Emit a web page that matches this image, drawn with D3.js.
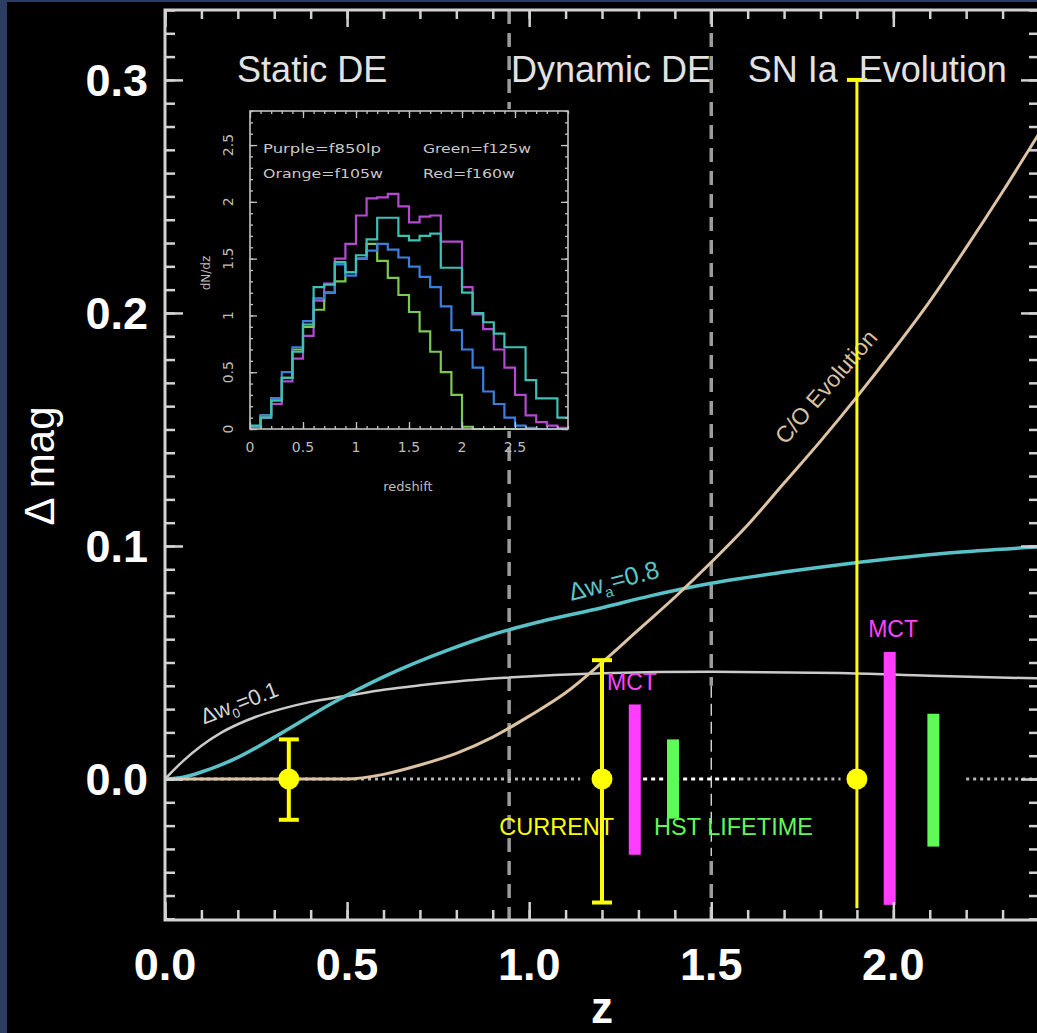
<!DOCTYPE html>
<html>
<head>
<meta charset="utf-8">
<script src="https://cdn.jsdelivr.net/npm/d3@7/dist/d3.min.js"></script>
<style>
  body { margin: 0; background: #000; }
  svg { display: block; }
</style>
</head>
<body>
<svg id="chart" width="1037" height="1033"></svg>
<script>
// ---- main panel data (z vs delta mag) ----
var grayZ = [0, 0.05, 0.1, 0.15, 0.2, 0.25, 0.32, 0.4, 0.5, 0.6, 0.7, 0.8, 0.92, 1.2, 1.5, 1.85, 2.1, 2.4];
var grayV = [0, 0.0078, 0.0143, 0.0195, 0.0235, 0.0267, 0.0301, 0.0331, 0.0357, 0.0383, 0.0402, 0.0418, 0.0433, 0.0454, 0.046, 0.0455, 0.0443, 0.0432];
var cyanZ = [0, 0.05, 0.1, 0.19, 0.32, 0.46, 0.6, 0.78, 0.9, 1.03, 1.2, 1.33, 1.5, 1.7, 1.88, 2.15, 2.4];
var cyanV = [0, 0.0008, 0.003, 0.0085, 0.0197, 0.0326, 0.0438, 0.0555, 0.062, 0.0675, 0.0735, 0.0785, 0.084, 0.0888, 0.0925, 0.097, 0.0996];
var tanZ = [0, 0.5, 0.6, 0.7, 0.8, 0.9, 1.0, 1.1, 1.2, 1.3, 1.4, 1.5, 1.6, 1.7, 1.8, 1.9, 2.0, 2.1, 2.2, 2.3, 2.4];
var tanV = [0, 0, 0.002, 0.006, 0.011, 0.018, 0.027, 0.037, 0.05, 0.064, 0.078, 0.093, 0.109, 0.127, 0.145, 0.164, 0.184, 0.205, 0.228, 0.252, 0.277];

// yellow "current" points with error bars
var curZ = [0.34, 1.2, 1.9];
var curLo = [-0.0175, -0.053, -0.0555];
var curHi = [0.017, 0.051, 0.300];
var curBottomCap = [true, true, false];
// magenta MCT and green HST bars
var mctZ = [1.29, 1.99];
var mctLo = [-0.0325, -0.054];
var mctHi = [0.032, 0.0545];
var hstZ = [1.395, 2.11];
var hstLo = [-0.017, -0.029];
var hstHi = [0.017, 0.028];

var regionZ = [0.945, 1.5];
var zeroSegs = [[0, 1.14], [1.58, 1.855], [2.2, 2.4]];
var zeroBright = [1.313, 1.58];
var hstGap = [-0.033, 0.040];

var zTicks = [0, 0.5, 1, 1.5, 2];
var zLabels = ["0.0", "0.5", "1.0", "1.5", "2.0"];
var magTicks = [0, 0.1, 0.2, 0.3];
var magLabels = ["0.0", "0.1", "0.2", "0.3"];

// ---- inset data (dN/dz histograms, bins of 0.1 in redshift) ----
var binStart = [0, 0.1, 0.2, 0.3, 0.4, 0.5, 0.6, 0.7, 0.8, 0.9, 1.0, 1.1, 1.2, 1.3, 1.4,
                1.5, 1.6, 1.7, 1.8, 1.9, 2.0, 2.1, 2.2, 2.3, 2.4, 2.5, 2.6, 2.7, 2.8, 2.9];
var purpleN = [0.02, 0.1, 0.22, 0.42, 0.62, 0.82, 1.13, 1.28, 1.5, 1.63, 1.88, 2.03, 2.04, 2.07, 1.96,
               1.82, 1.87, 1.88, 1.65, 1.65, 1.25, 1.01, 0.88, 0.7, 0.54, 0.3, 0.12, 0.06, 0.03, 0.01];
var tealN = [0.03, 0.1, 0.25, 0.45, 0.68, 0.92, 1.25, 1.27, 1.47, 1.38, 1.53, 1.67, 1.86, 1.86, 1.7,
             1.66, 1.7, 1.72, 1.42, 1.42, 1.2, 1.02, 0.94, 0.84, 0.72, 0.72, 0.43, 0.27, 0.27, 0.1];
var blueN = [0.02, 0.12, 0.27, 0.5, 0.72, 0.95, 1.15, 1.2, 1.45, 1.35, 1.5, 1.57, 1.63, 1.58, 1.51,
             1.43, 1.34, 1.25, 1.08, 0.87, 0.7, 0.54, 0.33, 0.22, 0.1, 0.03, 0.01, 0, 0, 0];
var greenN = [0.02, 0.12, 0.27, 0.45, 0.7, 0.9, 1.05, 1.2, 1.3, 1.38, 1.5, 1.63, 1.48, 1.33, 1.18,
              1.03, 0.86, 0.68, 0.5, 0.3, 0.02, 0, 0, 0, 0, 0, 0, 0, 0, 0];
var histColors = ["#b44ad0", "#7cc850", "#3c7ee0", "#3ec0b4"];
var insetTicks = [0, 0.5, 1, 1.5, 2, 2.5];
var insetLabels = ["0", "0.5", "1", "1.5", "2", "2.5"];

var svg = d3.select("#chart");
var font = "'Liberation Sans', Arial, Helvetica, sans-serif";

// background and the thin blue frame of the original slide
svg.append("rect").attr("width", 1037).attr("height", 1033).attr("fill", "#000");
svg.append("rect").attr("width", 7).attr("height", 1033).attr("fill", "#2b3d60");
svg.append("rect").attr("width", 1037).attr("height", 2).attr("fill", "#2b3d60");

var x = d3.scaleLinear().domain([0, 2.4]).range([165, 1039]);
var y = d3.scaleLinear().domain([-0.0605, 0.33]).range([920, 10]);

svg.append("clipPath").attr("id", "plotclip")
  .append("rect").attr("x", 165).attr("y", 10).attr("width", 874).attr("height", 910);

var plot = svg.append("g").attr("clip-path", "url(#plotclip)");

// region boundaries (dashed)
plot.selectAll(".region").data(regionZ).enter().append("line")
  .attr("x1", function(d) { return x(d); }).attr("x2", function(d) { return x(d); })
  .attr("y1", 10).attr("y2", 920)
  .attr("stroke", "#9c9c9c").attr("stroke-width", 3.5).attr("stroke-dasharray", "14,9");
// the pasted patch around the HST bar: thin white dashes replace the thick ones
plot.append("line")
  .attr("x1", x(1.5)).attr("x2", x(1.5)).attr("y1", y(hstGap[1])).attr("y2", y(hstGap[0]))
  .attr("stroke", "#000").attr("stroke-width", 6);
plot.append("line")
  .attr("x1", x(1.5)).attr("x2", x(1.5)).attr("y1", y(hstGap[1])).attr("y2", y(hstGap[0]))
  .attr("stroke", "#e8e8e8").attr("stroke-width", 1.3).attr("stroke-dasharray", "12,6");

// dotted zero line
plot.selectAll(".zero").data(zeroSegs).enter().append("line")
  .attr("x1", function(d) { return x(d[0]); }).attr("x2", function(d) { return x(d[1]); })
  .attr("y1", y(0)).attr("y2", y(0))
  .attr("stroke", "#b4b4b4").attr("stroke-width", 3).attr("stroke-dasharray", "3,4");
plot.append("line")
  .attr("x1", x(zeroBright[0])).attr("x2", x(zeroBright[1]))
  .attr("y1", y(0)).attr("y2", y(0))
  .attr("stroke", "#fff").attr("stroke-width", 3).attr("stroke-dasharray", "4,4");

// model curves
function curve(zs, vs) {
  return d3.line().curve(d3.curveMonotoneX)
    .x(function(d, i) { return x(zs[i]); })
    .y(function(d, i) { return y(vs[i]); })(zs);
}
plot.append("path").attr("d", curve(grayZ, grayV))
  .attr("fill", "none").attr("stroke", "#cbcbcb").attr("stroke-width", 2.5);
plot.append("path").attr("d", curve(cyanZ, cyanV))
  .attr("fill", "none").attr("stroke", "#58c2c8").attr("stroke-width", 3.5);
plot.append("path").attr("d", curve(tanZ, tanV))
  .attr("fill", "none").attr("stroke", "#dcc3a4").attr("stroke-width", 3);

// curve labels
function rotLabel(txt, sub, rest, cx, cy, ang, size, col) {
  var t = svg.append("text")
    .attr("transform", "translate(" + cx + "," + cy + ") rotate(" + ang + ")")
    .attr("text-anchor", "middle").attr("font-family", font)
    .attr("font-size", size).attr("fill", col);
  t.append("tspan").text(txt);
  if (sub) {
    t.append("tspan").attr("font-size", size * 0.6).attr("dy", size * 0.25).text(sub);
    t.append("tspan").attr("dy", -size * 0.25).text(rest);
  }
  return t;
}
rotLabel("\u0394w", "0", "=0.1", 242, 710, -21, 22, "#d4d4d4");
rotLabel("\u0394w", "a", "=0.8", 616, 589, -15, 25, "#5cc4c8");
rotLabel("C/O Evolution", null, null, 832, 392, -49, 23, "#d8c0a2");

// magenta and green bars
plot.selectAll(".mct").data(mctZ).enter().append("rect")
  .attr("x", function(d) { return x(d) - 6; }).attr("width", 12)
  .attr("y", function(d, i) { return y(mctHi[i]); })
  .attr("height", function(d, i) { return y(mctLo[i]) - y(mctHi[i]); })
  .attr("fill", "#ff3cff");
plot.selectAll(".hst").data(hstZ).enter().append("rect")
  .attr("x", function(d) { return x(d) - 6; }).attr("width", 12)
  .attr("y", function(d, i) { return y(hstHi[i]); })
  .attr("height", function(d, i) { return y(hstLo[i]) - y(hstHi[i]); })
  .attr("fill", "#5ffa55");

// yellow error bars
var cur = svg.selectAll(".cur").data(curZ).enter().append("g");
cur.append("line")
  .attr("x1", function(d) { return x(d); }).attr("x2", function(d) { return x(d); })
  .attr("y1", function(d, i) { return y(curHi[i]); })
  .attr("y2", function(d, i) { return y(curLo[i]); })
  .attr("stroke", "#ffff00").attr("stroke-width", function(d, i) { return i == 2 ? 3 : 4; });
cur.append("line")
  .attr("x1", function(d) { return x(d) - 10; }).attr("x2", function(d) { return x(d) + 10; })
  .attr("y1", function(d, i) { return y(curHi[i]); })
  .attr("y2", function(d, i) { return y(curHi[i]); })
  .attr("stroke", "#ffff00").attr("stroke-width", 4);
cur.filter(function(d, i) { return curBottomCap[i]; }).append("line")
  .attr("x1", function(d) { return x(d) - 10; }).attr("x2", function(d) { return x(d) + 10; })
  .attr("y1", function(d) { return y(curLo[curZ.indexOf(d)]); })
  .attr("y2", function(d) { return y(curLo[curZ.indexOf(d)]); })
  .attr("stroke", "#ffff00").attr("stroke-width", 4);
cur.append("circle")
  .attr("cx", function(d) { return x(d); }).attr("cy", y(0)).attr("r", 10.5)
  .attr("fill", "#ffff00");

// annotations
function note(txt, z, v, col, size) {
  svg.append("text").attr("x", x(z)).attr("y", y(v))
    .attr("font-family", font).attr("font-size", size).attr("fill", col).text(txt);
}
note("MCT", 1.214, 0.038, "#ff44ff", 23);
note("MCT", 1.931, 0.0608, "#ff44ff", 23);
note("CURRENT", 0.918, -0.0239, "#ffff00", 23.5);
note("HST LIFETIME", 1.343, -0.0239, "#5ffa55", 23.5);

// region titles
note("Static DE", 0.198, 0.2991, "#e2e2e2", 36);
note("Dynamic DE", 0.95, 0.2991, "#e2e2e2", 36);
note("SN Ia", 1.6, 0.2991, "#e2e2e2", 36);
note("Evolution", 1.905, 0.2991, "#e2e2e2", 36);

// ---- axes frame with inward ticks ----
var axisCol = "#d2d2d2";
function tickAxis(gen, tr, vals, size) {
  var g = svg.append("g").attr("transform", tr)
    .call(gen.tickValues(vals).tickSize(size).tickFormat(""));
  g.select(".domain").remove();
  g.selectAll("line").attr("stroke", axisCol).attr("stroke-width", 2.5);
}
var zMinor = d3.range(0, 2.41, 0.1);
var magMinor = d3.range(-0.06, 0.331, 0.01);
tickAxis(d3.axisTop(x), "translate(0,920)", zMinor, 10);
tickAxis(d3.axisTop(x), "translate(0,920)", zTicks, 18);
tickAxis(d3.axisBottom(x), "translate(0,10)", zMinor, 9);
tickAxis(d3.axisBottom(x), "translate(0,10)", zTicks, 17);
tickAxis(d3.axisRight(y), "translate(165,0)", magMinor, 10);
tickAxis(d3.axisRight(y), "translate(165,0)", magTicks, 18);
tickAxis(d3.axisLeft(y), "translate(1039,0)", magMinor, 10);
tickAxis(d3.axisLeft(y), "translate(1039,0)", magTicks, 18);
svg.append("rect").attr("x", 165).attr("y", 10).attr("width", 874).attr("height", 910)
  .attr("fill", "none").attr("stroke", axisCol).attr("stroke-width", 3);

// tick labels
svg.selectAll(".zlab").data(zTicks).enter().append("text")
  .attr("x", function(d) { return x(d); }).attr("y", 980)
  .attr("text-anchor", "middle").attr("font-family", font).attr("font-weight", "bold")
  .attr("font-size", 45).attr("fill", "#fff")
  .text(function(d, i) { return zLabels[i]; });
svg.selectAll(".mlab").data(magTicks).enter().append("text")
  .attr("x", 148).attr("y", function(d) { return y(d); }).attr("dy", "0.36em")
  .attr("text-anchor", "end").attr("font-family", font).attr("font-weight", "bold")
  .attr("font-size", 45).attr("fill", "#fff")
  .text(function(d, i) { return magLabels[i]; });
svg.append("text").attr("x", x(1.2)).attr("y", 1023)
  .attr("text-anchor", "middle").attr("font-family", font).attr("font-weight", "bold")
  .attr("font-size", 44).attr("fill", "#fff").text("z");
svg.append("text").attr("transform", "translate(54,466) rotate(-90)")
  .attr("text-anchor", "middle").attr("font-family", font)
  .attr("font-size", 42).attr("fill", "#fff").text("\u0394 mag");

// ---- inset histogram ----
var ix = d3.scaleLinear().domain([0, 3]).range([250, 568]);
var iy = d3.scaleLinear().domain([0, 2.8]).range([429, 111]);
var inset = svg.append("g");
inset.append("rect").attr("x", 248).attr("y", 109).attr("width", 322).attr("height", 322).attr("fill", "#000");

var hist = [purpleN, greenN, blueN, tealN];
var step = d3.line().curve(d3.curveStepAfter)
  .x(function(d) { return ix(d[0]); }).y(function(d) { return iy(d[1]); });
hist.forEach(function(vals, k) {
  var pts = binStart.map(function(b, i) { return [b, vals[i]]; });
  pts.push([3, vals[vals.length - 1]]);
  inset.append("path").attr("d", step(pts))
    .attr("fill", "none").attr("stroke", histColors[k]).attr("stroke-width", 2.2);
});

var iCol = "#c4c4c4";
function insetAxis(gen, tr, vals, size) {
  var g = inset.append("g").attr("transform", tr)
    .call(gen.tickValues(vals).tickSize(size).tickFormat(""));
  g.select(".domain").remove();
  g.selectAll("line").attr("stroke", iCol).attr("stroke-width", 1.3);
}
var iMinor = d3.range(0, 3.01, 0.1);
var iyMinor = d3.range(0, 2.81, 0.1);
insetAxis(d3.axisTop(ix), "translate(0,429)", iMinor, 3);
insetAxis(d3.axisTop(ix), "translate(0,429)", insetTicks, 7);
insetAxis(d3.axisBottom(ix), "translate(0,111)", iMinor, 3);
insetAxis(d3.axisBottom(ix), "translate(0,111)", insetTicks, 7);
insetAxis(d3.axisRight(iy), "translate(250,0)", iyMinor, 3);
insetAxis(d3.axisRight(iy), "translate(250,0)", insetTicks, 7);
insetAxis(d3.axisLeft(iy), "translate(568,0)", iyMinor, 3);
insetAxis(d3.axisLeft(iy), "translate(568,0)", insetTicks, 7);
inset.append("rect").attr("x", 250).attr("y", 111).attr("width", 318).attr("height", 318)
  .attr("fill", "none").attr("stroke", iCol).attr("stroke-width", 1.6);

var iFont = "'DejaVu Sans', sans-serif";
inset.selectAll(".ixl").data(insetTicks).enter().append("text")
  .attr("x", function(d) { return ix(d); }).attr("y", 452)
  .attr("text-anchor", "middle").attr("font-family", iFont).attr("font-size", 14).attr("fill", "#bdbdbd")
  .text(function(d, i) { return insetLabels[i]; });
inset.selectAll(".iyl").data(insetTicks).enter().append("text")
  .attr("transform", function(d) { return "translate(233," + iy(d) + ") rotate(-90)"; })
  .attr("text-anchor", "middle").attr("font-family", iFont).attr("font-size", 14).attr("fill", "#bdbdbd")
  .text(function(d, i) { return insetLabels[i]; });
inset.append("text").attr("x", 408).attr("y", 491)
  .attr("text-anchor", "middle").attr("font-family", iFont).attr("font-size", 13).attr("fill", "#bdbdbd")
  .text("redshift");
inset.append("text").attr("transform", "translate(210,273) rotate(-90)")
  .attr("text-anchor", "middle").attr("font-family", iFont).attr("font-size", 12).attr("fill", "#bdbdbd")
  .text("dN/dz");

var legTxt = ["Purple=f850lp", "Green=f125w", "Orange=f105w", "Red=f160w"];
var legX = [263, 423, 263, 423];
var legY = [153, 153, 178, 178];
var legW = [118, 108, 120, 92];
inset.selectAll(".leg").data(legTxt).enter().append("text")
  .attr("x", function(d, i) { return legX[i]; }).attr("y", function(d, i) { return legY[i]; })
  .attr("textLength", function(d, i) { return legW[i]; }).attr("lengthAdjust", "spacingAndGlyphs")
  .attr("font-family", iFont).attr("font-size", 13).attr("fill", "#c8c8c8")
  .text(function(d) { return d; });
</script>
</body>
</html>
